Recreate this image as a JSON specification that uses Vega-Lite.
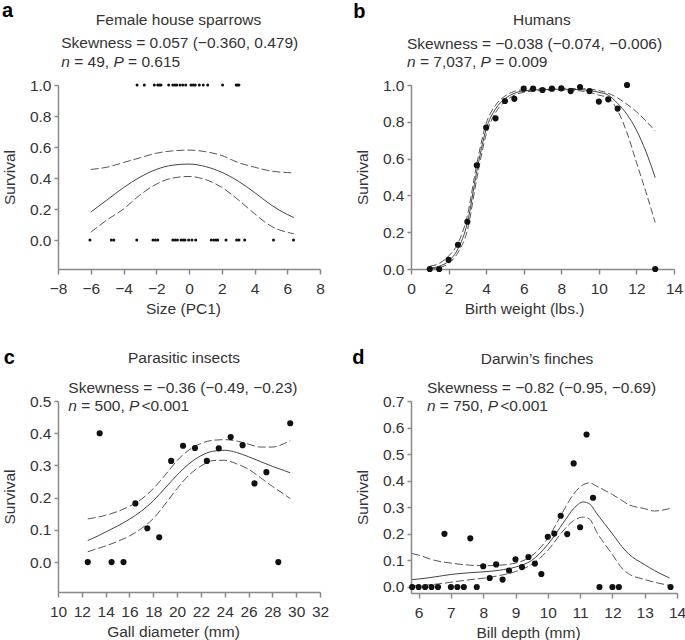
{
  "$schema": "https://vega.github.io/schema/vega-lite/v6.json",
  "padding": {"left": 1, "top": 0, "right": 2, "bottom": 0},
  "background": "white",
  "columns": 2,
  "bounds": "flush",
  "spacing": {"row": 132, "column": 91},
  "config": {
    "view": {"stroke": null},
    "font": "Liberation Sans",
    "axis": {"grid": false, "domainColor": "#888", "domainWidth": 1.5, "tickColor": "#888", "tickWidth": 1.5, "labelColor": "#333", "titleColor": "#333", "labelFontSize": 15.5, "titleFontSize": 15.5, "titleFontWeight": "normal", "labelFont": "Liberation Sans", "titleFont": "Liberation Sans", "labelFlush": false, "labelOverlap": false},
    "axisX": {"tickSize": 5, "labelPadding": 7, "titlePadding": 5},
    "axisY": {"tickSize": 4, "labelPadding": 3, "titlePadding": 12},
    "text": {"font": "Liberation Sans", "fontSize": 15.5, "color": "#333", "clip": false, "align": "left", "baseline": "alphabetic"},
    "line": {"interpolate": "monotone", "color": "#444", "strokeWidth": 1},
    "circle": {"color": "#111", "opacity": 1}
  },
  "datasets": {
    "a_pts": [
      {"x": -6.05, "y": 0}, {"x": -4.74, "y": 0}, {"x": -4.59, "y": 0}, {"x": -3.19, "y": 0}, {"x": -2.2, "y": 0}, {"x": -2.05, "y": 0}, {"x": -1.91, "y": 0}, {"x": -0.99, "y": 0}, {"x": -0.85, "y": 0}, {"x": -0.71, "y": 0}, {"x": -0.49, "y": 0}, {"x": -0.35, "y": 0}, {"x": -0.24, "y": 0}, {"x": -0.02, "y": 0}, {"x": 0.18, "y": 0}, {"x": 0.41, "y": 0}, {"x": 1.36, "y": 0}, {"x": 1.51, "y": 0}, {"x": 1.65, "y": 0}, {"x": 1.75, "y": 0}, {"x": 2.26, "y": 0}, {"x": 2.91, "y": 0}, {"x": 3.05, "y": 0}, {"x": 3.4, "y": 0}, {"x": 5.16, "y": 0}, {"x": 6.38, "y": 0},
      {"x": -3.17, "y": 1}, {"x": -2.73, "y": 1}, {"x": -2.12, "y": 1}, {"x": -1.91, "y": 1}, {"x": -1.8, "y": 1}, {"x": -1.71, "y": 1}, {"x": -1.24, "y": 1}, {"x": -0.99, "y": 1}, {"x": -0.85, "y": 1}, {"x": -0.75, "y": 1}, {"x": -0.55, "y": 1}, {"x": -0.38, "y": 1}, {"x": -0.2, "y": 1}, {"x": 0.12, "y": 1}, {"x": 0.25, "y": 1}, {"x": 0.38, "y": 1}, {"x": 0.63, "y": 1}, {"x": 0.87, "y": 1}, {"x": 1.14, "y": 1}, {"x": 2.05, "y": 1}, {"x": 2.88, "y": 1}, {"x": 2.95, "y": 1}, {"x": 3.05, "y": 1}
    ],
    "a_fit": [
      {"x": -6, "fit": 0.18, "lo": 0.05, "hi": 0.455},
      {"x": -5, "fit": 0.259, "lo": 0.13, "hi": 0.47},
      {"x": -4, "fit": 0.338, "lo": 0.2, "hi": 0.5},
      {"x": -3, "fit": 0.405, "lo": 0.29, "hi": 0.53},
      {"x": -2, "fit": 0.455, "lo": 0.36, "hi": 0.56},
      {"x": -1, "fit": 0.483, "lo": 0.4, "hi": 0.575},
      {"x": 0, "fit": 0.49, "lo": 0.41, "hi": 0.58},
      {"x": 1, "fit": 0.474, "lo": 0.39, "hi": 0.57},
      {"x": 2, "fit": 0.437, "lo": 0.34, "hi": 0.545},
      {"x": 3, "fit": 0.38, "lo": 0.26, "hi": 0.5},
      {"x": 4, "fit": 0.307, "lo": 0.17, "hi": 0.47},
      {"x": 5, "fit": 0.227, "lo": 0.09, "hi": 0.445},
      {"x": 6, "fit": 0.165, "lo": 0.05, "hi": 0.435},
      {"x": 6.4, "fit": 0.145, "lo": 0.04, "hi": 0.433}
    ],
    "b_pts": [
      {"x": 1, "y": 0}, {"x": 1.5, "y": 0}, {"x": 2, "y": 0.05}, {"x": 2.5, "y": 0.132}, {"x": 3, "y": 0.257}, {"x": 3.5, "y": 0.564}, {"x": 4, "y": 0.769}, {"x": 4.5, "y": 0.819}, {"x": 5, "y": 0.913}, {"x": 5.5, "y": 0.925}, {"x": 6, "y": 0.98}, {"x": 6.5, "y": 0.98}, {"x": 7, "y": 0.973}, {"x": 7.5, "y": 0.98}, {"x": 8, "y": 0.982}, {"x": 8.5, "y": 0.967}, {"x": 9, "y": 0.989}, {"x": 9.5, "y": 0.967}, {"x": 10, "y": 0.91}, {"x": 10.5, "y": 0.922}, {"x": 11, "y": 0.872}, {"x": 11.5, "y": 1.0}, {"x": 13, "y": 0}
    ],
    "b_fit": [
      {"x": 1, "fit": 0.004, "lo": 0.001, "hi": 0.015},
      {"x": 1.5, "fit": 0.015, "lo": 0.008, "hi": 0.03},
      {"x": 2, "fit": 0.043, "lo": 0.03, "hi": 0.07},
      {"x": 2.5, "fit": 0.11, "lo": 0.09, "hi": 0.14},
      {"x": 3, "fit": 0.25, "lo": 0.21, "hi": 0.29},
      {"x": 3.5, "fit": 0.53, "lo": 0.49, "hi": 0.57},
      {"x": 4, "fit": 0.76, "lo": 0.73, "hi": 0.79},
      {"x": 4.5, "fit": 0.87, "lo": 0.85, "hi": 0.89},
      {"x": 5, "fit": 0.925, "lo": 0.91, "hi": 0.94},
      {"x": 5.5, "fit": 0.955, "lo": 0.945, "hi": 0.965},
      {"x": 6, "fit": 0.968, "lo": 0.96, "hi": 0.975},
      {"x": 7, "fit": 0.975, "lo": 0.97, "hi": 0.98},
      {"x": 8, "fit": 0.977, "lo": 0.972, "hi": 0.982},
      {"x": 9, "fit": 0.975, "lo": 0.968, "hi": 0.98},
      {"x": 9.5, "fit": 0.97, "lo": 0.96, "hi": 0.978},
      {"x": 10, "fit": 0.96, "lo": 0.945, "hi": 0.97},
      {"x": 10.5, "fit": 0.945, "lo": 0.93, "hi": 0.955},
      {"x": 11, "fit": 0.9, "lo": 0.86, "hi": 0.93},
      {"x": 11.5, "fit": 0.84, "lo": 0.74, "hi": 0.895},
      {"x": 12, "fit": 0.755, "lo": 0.58, "hi": 0.855},
      {"x": 12.5, "fit": 0.64, "lo": 0.42, "hi": 0.805},
      {"x": 13, "fit": 0.497, "lo": 0.253, "hi": 0.75}
    ],
    "c_pts": [
      {"x": 12.5, "y": 0}, {"x": 13.5, "y": 0.4}, {"x": 14.5, "y": 0}, {"x": 15.5, "y": 0}, {"x": 16.5, "y": 0.182}, {"x": 17.5, "y": 0.105}, {"x": 18.5, "y": 0.077}, {"x": 19.5, "y": 0.314}, {"x": 20.5, "y": 0.361}, {"x": 21.5, "y": 0.354}, {"x": 22.5, "y": 0.314}, {"x": 23.5, "y": 0.353}, {"x": 24.5, "y": 0.388}, {"x": 25.5, "y": 0.363}, {"x": 26.5, "y": 0.244}, {"x": 27.5, "y": 0.279}, {"x": 28.5, "y": 0}, {"x": 29.5, "y": 0.431}
    ],
    "c_fit": [
      {"x": 12.5, "fit": 0.067, "lo": 0.032, "hi": 0.134},
      {"x": 13, "fit": 0.075, "lo": 0.038, "hi": 0.137},
      {"x": 14, "fit": 0.093, "lo": 0.05, "hi": 0.145},
      {"x": 15, "fit": 0.112, "lo": 0.064, "hi": 0.157},
      {"x": 16, "fit": 0.133, "lo": 0.081, "hi": 0.173},
      {"x": 17, "fit": 0.158, "lo": 0.104, "hi": 0.195},
      {"x": 18, "fit": 0.19, "lo": 0.135, "hi": 0.228},
      {"x": 19, "fit": 0.23, "lo": 0.18, "hi": 0.27},
      {"x": 20, "fit": 0.27, "lo": 0.228, "hi": 0.315},
      {"x": 21, "fit": 0.305, "lo": 0.27, "hi": 0.348},
      {"x": 22, "fit": 0.33, "lo": 0.298, "hi": 0.368},
      {"x": 23, "fit": 0.344, "lo": 0.315, "hi": 0.378},
      {"x": 24, "fit": 0.347, "lo": 0.316, "hi": 0.38},
      {"x": 25, "fit": 0.34, "lo": 0.305, "hi": 0.376},
      {"x": 26, "fit": 0.327, "lo": 0.288, "hi": 0.366},
      {"x": 27, "fit": 0.312, "lo": 0.262, "hi": 0.357},
      {"x": 28, "fit": 0.297, "lo": 0.235, "hi": 0.357},
      {"x": 29, "fit": 0.284, "lo": 0.21, "hi": 0.368},
      {"x": 29.5, "fit": 0.277, "lo": 0.197, "hi": 0.377}
    ],
    "d_pts": [
      {"x": 5.8, "y": 0}, {"x": 6.0, "y": 0}, {"x": 6.2, "y": 0}, {"x": 6.4, "y": 0}, {"x": 6.6, "y": 0}, {"x": 6.8, "y": 0.2}, {"x": 7.0, "y": 0}, {"x": 7.2, "y": 0}, {"x": 7.4, "y": 0}, {"x": 7.6, "y": 0.183}, {"x": 7.8, "y": 0}, {"x": 8.0, "y": 0.078}, {"x": 8.2, "y": 0.034}, {"x": 8.4, "y": 0.085}, {"x": 8.6, "y": 0.028}, {"x": 8.8, "y": 0.062}, {"x": 9.0, "y": 0.104}, {"x": 9.2, "y": 0.075}, {"x": 9.4, "y": 0.113}, {"x": 9.6, "y": 0.088}, {"x": 9.8, "y": 0.049}, {"x": 10.0, "y": 0.189}, {"x": 10.2, "y": 0.201}, {"x": 10.4, "y": 0.268}, {"x": 10.6, "y": 0.199}, {"x": 10.8, "y": 0.465}, {"x": 11.0, "y": 0.225}, {"x": 11.2, "y": 0.574}, {"x": 11.4, "y": 0.336}, {"x": 11.6, "y": 0}, {"x": 12.0, "y": 0}, {"x": 12.2, "y": 0}, {"x": 13.8, "y": 0}
    ],
    "d_fit": [
      {"x": 5.8, "fit": 0.028, "lo": 0.004, "hi": 0.126},
      {"x": 6, "fit": 0.03, "lo": 0.005, "hi": 0.12},
      {"x": 6.5, "fit": 0.038, "lo": 0.01, "hi": 0.1},
      {"x": 7, "fit": 0.047, "lo": 0.018, "hi": 0.09},
      {"x": 7.5, "fit": 0.053, "lo": 0.026, "hi": 0.083},
      {"x": 8, "fit": 0.057, "lo": 0.033, "hi": 0.08},
      {"x": 8.5, "fit": 0.063, "lo": 0.043, "hi": 0.082},
      {"x": 9, "fit": 0.075, "lo": 0.058, "hi": 0.09},
      {"x": 9.5, "fit": 0.1, "lo": 0.085, "hi": 0.117},
      {"x": 10, "fit": 0.16, "lo": 0.138, "hi": 0.183},
      {"x": 10.5, "fit": 0.245, "lo": 0.215, "hi": 0.29},
      {"x": 10.8, "fit": 0.295, "lo": 0.25, "hi": 0.35},
      {"x": 11.1, "fit": 0.32, "lo": 0.263, "hi": 0.385},
      {"x": 11.3, "fit": 0.312, "lo": 0.255, "hi": 0.392},
      {"x": 11.5, "fit": 0.279, "lo": 0.21, "hi": 0.38},
      {"x": 12, "fit": 0.2, "lo": 0.122, "hi": 0.348},
      {"x": 12.33, "fit": 0.147, "lo": 0.066, "hi": 0.323},
      {"x": 12.5, "fit": 0.125, "lo": 0.05, "hi": 0.31},
      {"x": 13, "fit": 0.084, "lo": 0.028, "hi": 0.295},
      {"x": 13.3, "fit": 0.062, "lo": 0.018, "hi": 0.286},
      {"x": 13.77, "fit": 0.034, "lo": 0.006, "hi": 0.295}
    ]
  },
  "concat": [
    {
      "width": 262, "height": 184,
      "resolve": {"axis": {"x": "independent", "y": "independent"}},
      "layer": [
        {"data": {"name": "a_fit"}, "mark": {"type": "line", "strokeDash": [8, 3], "color": "#555"},
         "encoding": {"x": {"field": "x", "type": "quantitative", "scale": {"domain": [-8, 8], "nice": false, "zero": false}, "axis": {"title": "Size (PC1)", "titleX": 125, "values": [-8, -6, -4, -2, 0, 2, 4, 6, 8], "format": "d"}},
                      "y": {"field": "hi", "type": "quantitative", "scale": {"domain": [-0.187, 1], "nice": false, "zero": false}, "axis": {"title": "Survival", "values": [0, 0.2, 0.4, 0.6, 0.8, 1], "format": ".1f"}}}},
        {"data": {"name": "a_fit"}, "mark": {"type": "line", "strokeDash": [8, 3], "color": "#555"},
         "encoding": {"x": {"field": "x", "type": "quantitative", "axis": null}, "y": {"field": "lo", "type": "quantitative", "axis": null}}},
        {"data": {"name": "a_fit"}, "mark": {"type": "line"},
         "encoding": {"x": {"field": "x", "type": "quantitative", "axis": null}, "y": {"field": "fit", "type": "quantitative", "axis": null}}},
        {"data": {"name": "a_pts"}, "mark": {"type": "circle", "size": 9},
         "encoding": {"x": {"field": "x", "type": "quantitative", "axis": null}, "y": {"field": "y", "type": "quantitative", "axis": null}}},
        {"data": {"values": [{}]}, "mark": {"type": "text", "text": "a", "fontSize": 20, "fontWeight": "bold", "color": "#000"},
         "encoding": {"x": {"datum": -11.42, "type": "quantitative", "axis": null}, "y": {"datum": 1.441, "type": "quantitative", "axis": null}}},
        {"data": {"values": [{}]}, "mark": {"type": "text", "text": "Female house sparrows", "align": "center"},
         "encoding": {"x": {"datum": -0.641, "type": "quantitative", "axis": null}, "y": {"datum": 1.384, "type": "quantitative", "axis": null}}},
        {"data": {"values": [{}]}, "mark": {"type": "text", "text": "Skewness = 0.057 (−0.360, 0.479)"},
         "encoding": {"x": {"datum": -7.8, "type": "quantitative", "axis": null}, "y": {"datum": 1.237, "type": "quantitative", "axis": null}}},
        {"data": {"values": [{}]}, "mark": {"type": "text", "text": "n", "fontStyle": "italic"},
         "encoding": {"x": {"datum": -7.8, "type": "quantitative", "axis": null}, "y": {"datum": 1.113, "type": "quantitative", "axis": null}}},
        {"data": {"values": [{}]}, "mark": {"type": "text", "text": "= 49,"},
         "encoding": {"x": {"datum": -7.01, "type": "quantitative", "axis": null}, "y": {"datum": 1.113, "type": "quantitative", "axis": null}}},
        {"data": {"values": [{}]}, "mark": {"type": "text", "text": "P", "fontStyle": "italic"},
         "encoding": {"x": {"datum": -4.615, "type": "quantitative", "axis": null}, "y": {"datum": 1.113, "type": "quantitative", "axis": null}}},
        {"data": {"values": [{}]}, "mark": {"type": "text", "text": "= 0.615"},
         "encoding": {"x": {"datum": -3.721, "type": "quantitative", "axis": null}, "y": {"datum": 1.113, "type": "quantitative", "axis": null}}}
      ]
    },
    {
      "width": 263, "height": 184,
      "resolve": {"axis": {"x": "independent", "y": "independent"}},
      "layer": [
        {"data": {"name": "b_fit"}, "mark": {"type": "line", "strokeDash": [7, 3], "color": "#555"},
         "encoding": {"x": {"field": "x", "type": "quantitative", "scale": {"domain": [0, 14], "nice": false, "zero": false}, "axis": {"title": "Birth weight (lbs.)", "titleX": 113, "values": [0, 2, 4, 6, 8, 10, 12, 14], "format": "d"}},
                      "y": {"field": "hi", "type": "quantitative", "scale": {"domain": [0, 1], "nice": false, "zero": false}, "axis": {"title": "Survival", "values": [0, 0.2, 0.4, 0.6, 0.8, 1], "format": ".1f"}}}},
        {"data": {"name": "b_fit"}, "mark": {"type": "line", "strokeDash": [7, 3], "color": "#555"},
         "encoding": {"x": {"field": "x", "type": "quantitative", "axis": null}, "y": {"field": "lo", "type": "quantitative", "axis": null}}},
        {"data": {"name": "b_fit"}, "mark": {"type": "line"},
         "encoding": {"x": {"field": "x", "type": "quantitative", "axis": null}, "y": {"field": "fit", "type": "quantitative", "axis": null}}},
        {"data": {"name": "b_pts"}, "mark": {"type": "circle", "size": 38},
         "encoding": {"x": {"field": "x", "type": "quantitative", "axis": null}, "y": {"field": "y", "type": "quantitative", "axis": null}}},
        {"data": {"values": [{}]}, "mark": {"type": "text", "text": "b", "fontSize": 20, "fontWeight": "bold", "color": "#000"},
         "encoding": {"x": {"datum": -3.08, "type": "quantitative", "axis": null}, "y": {"datum": 1.362, "type": "quantitative", "axis": null}}},
        {"data": {"values": [{}]}, "mark": {"type": "text", "text": "Humans", "align": "center"},
         "encoding": {"x": {"datum": 6.964, "type": "quantitative", "axis": null}, "y": {"datum": 1.327, "type": "quantitative", "axis": null}}},
        {"data": {"values": [{}]}, "mark": {"type": "text", "text": "Skewness = −0.038 (−0.074, −0.006)"},
         "encoding": {"x": {"datum": -0.213, "type": "quantitative", "axis": null}, "y": {"datum": 1.197, "type": "quantitative", "axis": null}}},
        {"data": {"values": [{}]}, "mark": {"type": "text", "text": "n", "fontStyle": "italic"},
         "encoding": {"x": {"datum": -0.213, "type": "quantitative", "axis": null}, "y": {"datum": 1.097, "type": "quantitative", "axis": null}}},
        {"data": {"values": [{}]}, "mark": {"type": "text", "text": "= 7,037,"},
         "encoding": {"x": {"datum": 0.474, "type": "quantitative", "axis": null}, "y": {"datum": 1.097, "type": "quantitative", "axis": null}}},
        {"data": {"values": [{}]}, "mark": {"type": "text", "text": "P", "fontStyle": "italic"},
         "encoding": {"x": {"datum": 3.705, "type": "quantitative", "axis": null}, "y": {"datum": 1.097, "type": "quantitative", "axis": null}}},
        {"data": {"values": [{}]}, "mark": {"type": "text", "text": "= 0.009"},
         "encoding": {"x": {"datum": 4.484, "type": "quantitative", "axis": null}, "y": {"datum": 1.097, "type": "quantitative", "axis": null}}}
      ]
    },
    {
      "width": 262, "height": 191,
      "resolve": {"axis": {"x": "independent", "y": "independent"}},
      "layer": [
        {"data": {"name": "c_fit"}, "mark": {"type": "line", "strokeDash": [8, 3], "color": "#555"},
         "encoding": {"x": {"field": "x", "type": "quantitative", "scale": {"domain": [10, 32], "nice": false, "zero": false}, "axis": {"title": "Gall diameter (mm)", "titleX": 115, "values": [10, 12, 14, 16, 18, 20, 22, 24, 26, 28, 30, 32], "format": "d"}},
                      "y": {"field": "hi", "type": "quantitative", "scale": {"domain": [-0.093, 0.5], "nice": false, "zero": false}, "axis": {"title": "Survival", "values": [0, 0.1, 0.2, 0.3, 0.4, 0.5], "format": ".1f"}}}},
        {"data": {"name": "c_fit"}, "mark": {"type": "line", "strokeDash": [8, 3], "color": "#555"},
         "encoding": {"x": {"field": "x", "type": "quantitative", "axis": null}, "y": {"field": "lo", "type": "quantitative", "axis": null}}},
        {"data": {"name": "c_fit"}, "mark": {"type": "line"},
         "encoding": {"x": {"field": "x", "type": "quantitative", "axis": null}, "y": {"field": "fit", "type": "quantitative", "axis": null}}},
        {"data": {"name": "c_pts"}, "mark": {"type": "circle", "size": 38},
         "encoding": {"x": {"field": "x", "type": "quantitative", "axis": null}, "y": {"field": "y", "type": "quantitative", "axis": null}}},
        {"data": {"values": [{}]}, "mark": {"type": "text", "text": "c", "fontSize": 20, "fontWeight": "bold", "color": "#000"},
         "encoding": {"x": {"datum": 5.44, "type": "quantitative", "axis": null}, "y": {"datum": 0.614, "type": "quantitative", "axis": null}}},
        {"data": {"values": [{}]}, "mark": {"type": "text", "text": "Parasitic insects", "align": "center"},
         "encoding": {"x": {"datum": 20.58, "type": "quantitative", "axis": null}, "y": {"datum": 0.619, "type": "quantitative", "axis": null}}},
        {"data": {"values": [{}]}, "mark": {"type": "text", "text": "Skewness = −0.36 (−0.49, −0.23)"},
         "encoding": {"x": {"datum": 10.865, "type": "quantitative", "axis": null}, "y": {"datum": 0.526, "type": "quantitative", "axis": null}}},
        {"data": {"values": [{}]}, "mark": {"type": "text", "text": "n", "fontStyle": "italic"},
         "encoding": {"x": {"datum": 10.865, "type": "quantitative", "axis": null}, "y": {"datum": 0.469, "type": "quantitative", "axis": null}}},
        {"data": {"values": [{}]}, "mark": {"type": "text", "text": "= 500,"},
         "encoding": {"x": {"datum": 11.951, "type": "quantitative", "axis": null}, "y": {"datum": 0.469, "type": "quantitative", "axis": null}}},
        {"data": {"values": [{}]}, "mark": {"type": "text", "text": "P", "fontStyle": "italic"},
         "encoding": {"x": {"datum": 15.967, "type": "quantitative", "axis": null}, "y": {"datum": 0.469, "type": "quantitative", "axis": null}}},
        {"data": {"values": [{}]}, "mark": {"type": "text", "text": "<0.001"},
         "encoding": {"x": {"datum": 17.003, "type": "quantitative", "axis": null}, "y": {"datum": 0.469, "type": "quantitative", "axis": null}}}
      ]
    },
    {
      "width": 266, "height": 192,
      "resolve": {"axis": {"x": "independent", "y": "independent"}},
      "layer": [
        {"data": {"name": "d_fit"}, "mark": {"type": "line", "strokeDash": [8, 3], "color": "#555"},
         "encoding": {"x": {"field": "x", "type": "quantitative", "scale": {"domain": [5.764, 14], "nice": false, "zero": false}, "axis": {"title": "Bill depth (mm)", "titleX": 117, "values": [6, 7, 8, 9, 10, 11, 12, 13, 14], "format": "d"}},
                      "y": {"field": "hi", "type": "quantitative", "scale": {"domain": [-0.0226, 0.7], "nice": false, "zero": false}, "axis": {"title": "Survival", "values": [0, 0.1, 0.2, 0.3, 0.4, 0.5, 0.6, 0.7], "format": ".1f"}}}},
        {"data": {"name": "d_fit"}, "mark": {"type": "line", "strokeDash": [8, 3], "color": "#555"},
         "encoding": {"x": {"field": "x", "type": "quantitative", "axis": null}, "y": {"field": "lo", "type": "quantitative", "axis": null}}},
        {"data": {"name": "d_fit"}, "mark": {"type": "line"},
         "encoding": {"x": {"field": "x", "type": "quantitative", "axis": null}, "y": {"field": "fit", "type": "quantitative", "axis": null}}},
        {"data": {"name": "d_pts"}, "mark": {"type": "circle", "size": 38},
         "encoding": {"x": {"field": "x", "type": "quantitative", "axis": null}, "y": {"field": "y", "type": "quantitative", "axis": null}}},
        {"data": {"values": [{}]}, "mark": {"type": "text", "text": "d", "fontSize": 20, "fontWeight": "bold", "color": "#000"},
         "encoding": {"x": {"datum": 3.944, "type": "quantitative", "axis": null}, "y": {"datum": 0.838, "type": "quantitative", "axis": null}}},
        {"data": {"values": [{}]}, "mark": {"type": "text", "text": "Darwin’s finches", "align": "center"},
         "encoding": {"x": {"datum": 9.665, "type": "quantitative", "axis": null}, "y": {"datum": 0.838, "type": "quantitative", "axis": null}}},
        {"data": {"values": [{}]}, "mark": {"type": "text", "text": "Skewness = −0.82 (−0.95, −0.69)"},
         "encoding": {"x": {"datum": 6.257, "type": "quantitative", "axis": null}, "y": {"datum": 0.731, "type": "quantitative", "axis": null}}},
        {"data": {"values": [{}]}, "mark": {"type": "text", "text": "n", "fontStyle": "italic"},
         "encoding": {"x": {"datum": 6.257, "type": "quantitative", "axis": null}, "y": {"datum": 0.663, "type": "quantitative", "axis": null}}},
        {"data": {"values": [{}]}, "mark": {"type": "text", "text": "= 750,"},
         "encoding": {"x": {"datum": 6.658, "type": "quantitative", "axis": null}, "y": {"datum": 0.663, "type": "quantitative", "axis": null}}},
        {"data": {"values": [{}]}, "mark": {"type": "text", "text": "P", "fontStyle": "italic"},
         "encoding": {"x": {"datum": 8.141, "type": "quantitative", "axis": null}, "y": {"datum": 0.663, "type": "quantitative", "axis": null}}},
        {"data": {"values": [{}]}, "mark": {"type": "text", "text": "<0.001"},
         "encoding": {"x": {"datum": 8.524, "type": "quantitative", "axis": null}, "y": {"datum": 0.663, "type": "quantitative", "axis": null}}}
      ]
    }
  ]
}
